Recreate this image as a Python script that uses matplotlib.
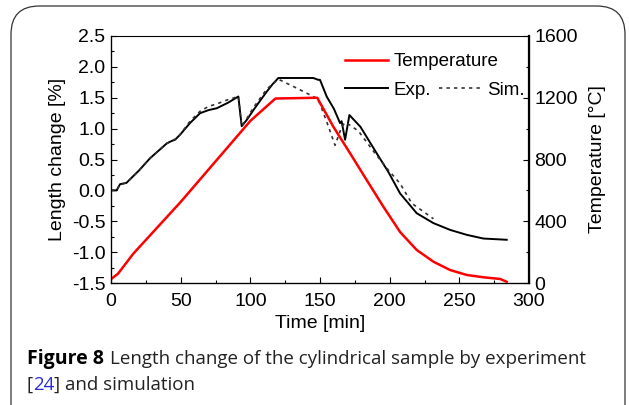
import numpy as np
from matplotlib import pyplot as plt
from matplotlib.patches import FancyBboxPatch
from matplotlib.ticker import MultipleLocator

# temperature [degC] vs time [min]
temp_t = [0, 5, 16, 50, 100, 118, 148, 159.6, 171.6, 183.5, 195.5, 207.5, 219.4, 231.4, 243.4, 255.3,
          267.3, 279.3, 284]
temp_v = [25, 60, 190, 525, 1050, 1195, 1200, 1012, 840, 667, 494, 330, 214, 138, 84, 52,
          37, 26, 8]

# experiment length change [%]
exp_t = [0, 4, 6.5, 11, 20, 28, 35, 40, 43.6, 46, 49.5, 56.7, 63.9, 70, 75.9, 84, 91.4, 93.8, 97.4,
         102.2, 106, 111.8, 116, 120.1, 135, 145.2, 148.8, 150, 154.8, 160, 164.4, 165.5, 168, 171.1,
         179, 190.7, 199, 207.5, 219.4, 231.4, 243.4, 255.3, 267.3, 284]
exp_v = [0.0, 0.0, 0.10, 0.12, 0.32, 0.52, 0.66, 0.76, 0.80, 0.82, 0.90, 1.09, 1.25, 1.30, 1.33, 1.42,
         1.52, 1.04, 1.14, 1.30, 1.42, 1.60, 1.72, 1.82, 1.82, 1.82, 1.79, 1.79, 1.52, 1.32, 1.09,
         1.12, 0.82, 1.22, 1.03, 0.60, 0.30, -0.05, -0.37, -0.53, -0.64, -0.72, -0.78, -0.80]

# simulation length change [%]
sim_t = [0, 4, 6.5, 11, 20, 28, 35, 40, 46, 49.5, 56.7, 63.9, 70, 75.9, 84, 91.4, 93.8, 97.4,
         102.2, 111.8, 120.1, 132, 145.2, 148.8, 155, 160.8, 165.6, 168, 172, 177.6, 189.5, 199,
         207.5, 215.9, 224, 231.4]
sim_v = [0.0, 0.0, 0.10, 0.12, 0.32, 0.52, 0.66, 0.76, 0.83, 0.90, 1.12, 1.28, 1.36, 1.40, 1.47, 1.52,
         1.04, 1.16, 1.34, 1.64, 1.80, 1.67, 1.52, 1.47, 1.10, 0.73, 1.03, 1.10, 1.05, 0.96, 0.60, 0.33,
         0.11, -0.21, -0.34, -0.46]

plt.rcParams['font.family'] = ['Liberation Sans', 'DejaVu Sans']

fig = plt.figure(figsize=(6.29, 4.05), dpi=100)

# rounded frame around the figure
frame = FancyBboxPatch((11 / 629, -0.1), (614 / 629), 1.1 - 6 / 405,
                       boxstyle="round,pad=0,rounding_size=0.045", transform=fig.transFigure,
                       facecolor='none', edgecolor='#333333', linewidth=0.9, mutation_aspect=629 / 405)
fig.patches.append(frame)

ax = fig.add_axes([111 / 629, 1 - 283 / 405, 418 / 629, 247 / 405])
ax2 = ax.twinx()

l_temp, = ax2.plot(temp_t, temp_v, color='#ff0000', lw=1.8, label='Temperature')
l_exp, = ax.plot(exp_t, exp_v, color='black', lw=1.4, label='Exp.')
l_sim, = ax.plot(sim_t, sim_v, color='#333333', lw=1.2, ls=(0, (2, 2.5)), label='Sim.')

ax.set_xlim(0, 300)
ax.set_ylim(-1.5, 2.5)
ax2.set_ylim(0, 1600)

ax.xaxis.set_major_locator(MultipleLocator(50))
ax.xaxis.set_minor_locator(MultipleLocator(25))
ax.yaxis.set_major_locator(MultipleLocator(0.5))
ax.yaxis.set_minor_locator(MultipleLocator(0.25))
ax2.yaxis.set_major_locator(MultipleLocator(400))
ax2.yaxis.set_minor_locator(MultipleLocator(200))

for a in (ax, ax2):
    a.tick_params(which='both', direction='in', labelsize=14, width=0.8, pad=4)
    a.tick_params(which='major', length=4)
    a.tick_params(which='minor', length=2.5)
ax.tick_params(axis='x', pad=7)
ax.tick_params(axis='y', which='both', right=False)
ax.yaxis.set_major_formatter(plt.FuncFormatter(lambda v, p: '%.1f' % v))

ax.spines['left'].set_linewidth(0.9)
ax.spines['bottom'].set_linewidth(0.9)
ax.spines['top'].set_linewidth(0.7)
ax.spines['top'].set_color('#555555')
ax2.spines['right'].set_linewidth(1.6)

ax.set_xlabel('Time [min]', fontsize=14, labelpad=4)
ax.set_ylabel('Length change [%]', fontsize=14, labelpad=4)
ax2.set_ylabel('Temperature [°C]', fontsize=14, labelpad=8)

leg1 = ax2.legend(handles=[l_temp], loc='upper left', bbox_to_anchor=(0.56, 0.93), frameon=False,
                  fontsize=13.5, handlelength=2.3, handletextpad=0.3, borderpad=0, borderaxespad=0)
leg2 = ax2.legend(handles=[l_exp, l_sim], loc='upper left', bbox_to_anchor=(0.56, 0.815), frameon=False,
                  fontsize=13.5, ncol=2, handlelength=2.3, handletextpad=0.3, columnspacing=0.4,
                  borderpad=0, borderaxespad=0)
ax2.add_artist(leg1)

cap_font = ['Open Sans', 'DejaVu Sans']
fig.text(27 / 629, 1 - 364 / 405, 'Figure 8', fontsize=14, fontweight='bold', family=cap_font,
         va='baseline')
fig.text(110 / 629, 1 - 364 / 405, 'Length change of the cylindrical sample by experiment',
         fontsize=13.5, family=cap_font, va='baseline', color='#222222')
fig.text(27 / 629, 1 - 390 / 405, '[', fontsize=13.5, family=cap_font, va='baseline', color='#222222')
fig.text(33 / 629, 1 - 390 / 405, '24', fontsize=13.5, family=cap_font, va='baseline', color='#2b2bd9')
fig.text(54 / 629, 1 - 390 / 405, '] and simulation', fontsize=13.5, family=cap_font, va='baseline',
         color='#222222')

fig.savefig('out.png', dpi=100)
